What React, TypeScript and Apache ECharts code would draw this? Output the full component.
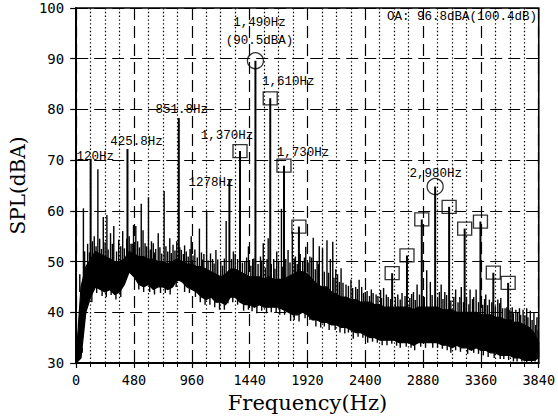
import React, { useEffect, useRef } from "react";
import * as echarts from "echarts";

// ---------------- data ----------------
const X_TICKS = [0, 480, 960, 1440, 1920, 2400, 2880, 3360, 3840];
const Y_TICKS = [30, 40, 50, 60, 70, 80, 90, 100];

// broadband noise floor: frequency grid and lower / upper edge of the dense band (dBA)
const BAND_FREQ = [
  0, 40, 80, 120, 160, 200, 240, 280, 320, 360, 400, 440, 480, 520, 560, 600, 640, 680, 720, 760,
  800, 840, 880, 920, 960, 1000, 1040, 1080, 1120, 1160, 1200, 1240, 1280, 1320, 1360, 1400, 1440,
  1480, 1520, 1560, 1600, 1640, 1680, 1720, 1760, 1800, 1840, 1880, 1920, 1960, 2000, 2040, 2080,
  2120, 2160, 2200, 2240, 2280, 2320, 2360, 2400, 2440, 2480, 2520, 2560, 2600, 2640, 2680, 2720,
  2760, 2800, 2840, 2880, 2920, 2960, 3000, 3040, 3080, 3120, 3160, 3200, 3240, 3280, 3320, 3360,
  3400, 3440, 3480, 3520, 3560, 3600, 3640, 3680, 3720, 3760, 3800, 3840,
];
const BAND_LOW = [
  30, 31, 40, 43, 45, 44.5, 44, 44.5, 43.5, 44, 45.5, 48, 47, 45.5, 45, 45.5, 44.5, 45, 45, 44.5,
  45, 46.5, 46, 45, 44.5, 44, 43, 42.5, 43, 42, 42, 41.5, 43, 43, 42, 41.5, 41.5,
  41, 41.5, 41, 41, 41, 41, 40.5, 40, 39.5, 39.5, 40, 39.5, 38.5, 38.5, 38, 38,
  37.5, 37.5, 37, 37, 36.5, 36, 36, 35.5, 35, 35, 34.5, 34.5, 34.5, 34.5, 34, 34,
  34, 33.5, 34, 34, 34, 34, 34, 33.5, 33.5, 33, 33.5, 33, 33, 32.5, 33, 32.5,
  32.5, 32, 32, 31.5, 31.5, 31.5, 31, 31, 30.5, 30.5, 30.5, 31,
];
const BAND_HIGH = [
  31, 45, 49, 50.5, 52, 51.5, 51, 50.5, 50, 50, 50.5, 52, 51.5, 51, 51, 50.5, 50.5, 50, 50, 49.5,
  50, 50.5, 50, 49.5, 49.5, 49, 49, 48.5, 48, 47.5, 47, 47.5, 48.5, 48.5, 48, 47.5, 47,
  47, 47, 46.5, 47, 46.5, 46.5, 46.5, 47, 47.5, 48, 48, 47.5, 46.5, 45.5, 45, 45,
  44, 43.5, 43, 43, 42.5, 42.5, 42, 42, 42, 41.5, 41.5, 41, 41, 41, 41, 41,
  41, 40.5, 41, 41, 41, 41, 41, 40.5, 40.5, 40.5, 40, 40, 40, 40, 40, 39.5,
  39.5, 39.5, 39, 39, 38.5, 38.5, 38, 38, 37.5, 37, 36, 34,
];

// tonal peaks [Hz, dBA]
const CIRCLE_PEAKS = [[1488, 89.6], [2980, 64.8]];
const SQUARE_PEAKS = [
  [1360, 71.8], [1611, 82.2], [1725, 68.9], [1849, 56.9], [2623, 47.7], [2746, 51.2],
  [2869, 58.3], [3096, 60.8], [3225, 56.5], [3356, 57.9], [3463, 47.8], [3586, 45.8],
];
const LABELED_PEAKS = [[120, 70.3], [425.8, 72.2], [851.8, 78.3], [1272, 66.2]];
const MINOR_SPIKES = [
  [30, 47.5], [60, 60.5], [150, 55], [180, 68.2], [225, 58.8], [255, 59.2], [285, 55.6], [312, 57],
  [353, 54.3], [386, 56], [455, 53.5], [476, 57.2], [495, 57], [540, 61.4], [555, 56.2], [572, 53.6],
  [600, 62.7], [640, 53.6], [660, 52.5], [681, 55.6], [730, 63.9], [760, 52], [777, 54.6], [804, 53.3],
  [873, 52.3], [914, 52], [955, 55], [1023, 56.5], [1060, 51.5], [1083, 60], [1132, 50.5], [1160, 52.3],
  [1200, 50], [1245, 58], [1320, 51.5], [1400, 50], [1430, 53], [1465, 50.5], [1530, 51], [1553, 53.6],
  [1594, 54.6], [1640, 50.5], [1665, 52], [1704, 60.4], [1759, 52.3], [1794, 55.9], [1820, 51], [1880, 50],
  [1906, 52.9], [1940, 51], [1968, 54.7], [2000, 50], [2018, 53], [2045, 52.6], [2082, 54.2], [2110, 50.5],
  [2130, 53.9], [2170, 47.5], [2199, 48.7], [2240, 45.5], [2281, 46.4], [2320, 45], [2349, 46.4], [2400, 44],
  [2450, 44.5], [2490, 43.5], [2527, 44.4], [2552, 44.8], [2590, 43], [2670, 43.5], [2705, 43.8], [2800, 44],
  [2830, 45.5], [2910, 48.3], [2940, 46], [3030, 45.5], [3060, 44], [3150, 44.5], [3197, 45], [3270, 44.5],
  [3300, 43], [3320, 44.5], [3400, 43.5], [3430, 42.5], [3500, 42.5], [3525, 42.8], [3560, 40.8], [3600, 40.5],
  [3620, 41], [3650, 40.5], [3680, 40.8], [3710, 40.5], [3740, 40.8], [3770, 40.3], [3800, 40], [3825, 39],
];
// small ragged excursions just above the band [Hz, dBA]
const FINE_SPIKES = [
  [70, 52], [95, 53.5], [110, 51.8], [135, 54], [165, 53], [195, 54.5], [210, 52.5], [240, 53.8],
  [265, 52.4], [300, 53.5], [335, 52], [370, 53], [400, 52.6], [420, 54.5], [440, 55], [465, 53.5],
  [510, 54], [525, 52.8], [585, 53], [615, 52.4], [625, 54], [650, 51.8], [695, 52.8], [710, 51.6],
  [745, 53], [790, 51.7], [820, 52.2], [835, 54], [860, 52.8], [890, 51.5], [900, 53.2], [930, 51],
  [945, 52.5], [970, 51.2], [985, 52.4], [1005, 50.8], [1040, 51.8], [1050, 50.4], [1095, 50.2],
  [1115, 51.6], [1145, 49.6], [1175, 50.4], [1215, 49.2], [1230, 50.6], [1290, 50.5], [1305, 52],
  [1340, 50.5], [1380, 49.8], [1415, 50.8], [1450, 49.2], [1475, 50.6], [1510, 49.5], [1540, 50.2],
  [1570, 48.8], [1585, 50.5], [1620, 49.5], [1650, 48.6], [1680, 50], [1715, 49], [1740, 50.5],
  [1775, 49.8], [1810, 50.6], [1835, 49.5], [1860, 51.5], [1895, 50.8], [1925, 49.8], [1955, 50.8],
  [1985, 48.5], [2010, 49.5], [2060, 48], [2095, 47.8], [2140, 46.8], [2155, 48.5], [2185, 46],
  [2215, 45.8], [2260, 45.2], [2295, 44.8], [2335, 44.6], [2370, 45], [2385, 43.8], [2415, 44.2],
  [2435, 43.2], [2465, 43.8], [2505, 43.2], [2535, 42.8], [2575, 43.5], [2610, 42.6], [2650, 43],
  [2690, 42.5], [2730, 43.2], [2770, 42.8], [2785, 43.6], [2815, 42.4], [2850, 43.5], [2890, 43],
  [2955, 43.4], [3000, 42.8], [3015, 44], [3045, 42.6], [3075, 43.4], [3110, 42.3], [3135, 43],
  [3170, 42], [3185, 43], [3215, 42], [3240, 43], [3260, 41.6], [3290, 42.6], [3340, 42], [3375, 41.5],
  [3390, 42.6], [3415, 41.4], [3450, 42], [3480, 41.2], [3515, 41.8], [3540, 40.8], [3575, 41],
  [3610, 40.2], [3630, 39.8], [3665, 40], [3690, 39.5], [3725, 39.4], [3750, 39], [3785, 38.5],
  [3815, 37.5], [3835, 36.5],
];
// downward excursions below the band [Hz, dBA]
const DIPS = [
  [50, 33], [100, 41], [130, 42], [170, 43.8], [215, 43.2], [250, 43], [290, 43.4], [330, 42.5],
  [370, 43], [420, 46.5], [520, 44.5], [560, 44], [610, 44], [650, 43.5], [700, 43.8], [740, 43.8],
  [780, 43.5], [830, 45], [900, 44], [940, 43.8], [990, 43], [1030, 42], [1070, 41.5], [1110, 41.5],
  [1150, 41], [1190, 40.5], [1230, 40.5], [1260, 41.8], [1300, 42], [1340, 41.5], [1390, 40.3],
  [1430, 40.5], [1460, 40.2], [1500, 39.8], [1540, 40.3], [1580, 39.8], [1620, 40], [1660, 40],
  [1690, 39.5], [1730, 39.5], [1780, 38.3], [1810, 38.5], [1850, 38.2], [1900, 38.8], [1940, 38.5],
  [1990, 37.2], [2030, 37], [2060, 37.2], [2100, 36.5], [2150, 36.5], [2190, 36], [2230, 35.8],
  [2260, 36], [2300, 34.8], [2340, 35.2], [2380, 35], [2420, 34], [2460, 34.2], [2500, 34],
  [2540, 33.5], [2580, 33.5], [2620, 33.8], [2660, 33.4], [2690, 33], [2740, 33.2], [2780, 33],
  [2810, 32.5], [2860, 33.2], [2900, 33], [2960, 33], [3000, 33], [3040, 32.8], [3080, 32.5],
  [3110, 32], [3150, 32.5], [3190, 32.2], [3250, 31.8], [3300, 32], [3340, 31.8], [3380, 31.5],
  [3420, 31.2], [3470, 31], [3520, 30.8], [3550, 30.8], [3590, 30.6], [3630, 30.3], [3660, 30.3],
  [3700, 30.3], [3740, 30.2], [3780, 30], [3810, 30.3],
];

// annotation texts and the peak each one belongs to
const LABEL_TEXTS = [
  "120Hz", "425.8Hz", "851.8Hz", "1278Hz", "1,370Hz", "1,490Hz\n(90.5dBA)", "1,610Hz", "1,730Hz", "2,980Hz",
];
const LABEL_PEAKS = [
  [120, 70.3], [425.8, 72.2], [851.8, 78.3], [1272, 66.2], [1360, 71.8], [1488, 89.6], [1611, 82.2],
  [1725, 68.9], [2980, 64.8],
];
const OA_TEXT = "OA: 96.8dBA(100.4dB)";
const X_NAME = "Frequency(Hz)";
const Y_NAME = "SPL(dBA)";

// ---------------- styles ----------------
const LABEL_OFFSETS = [
  [4.5, -2], [9, -7], [3, -8], [-18.5, 3.3], [-13, -15], [4, -29], [18, -16], [19, -13], [0.5, -13],
];
const MONO = '"Liberation Mono", "DejaVu Sans Mono", monospace';
const TICK_FONT = '"DejaVu Sans Mono", "Liberation Mono", monospace';
const SERIF = '"DejaVu Serif", "Liberation Serif", serif';

function nearestIndex(f: number): number {
  let best = 0;
  for (let i = 1; i < BAND_FREQ.length; i++) {
    if (Math.abs(BAND_FREQ[i] - f) < Math.abs(BAND_FREQ[best] - f)) best = i;
  }
  return best;
}

function spikeItems(list: number[][]) {
  return list.map(([f, top]) => [f, top, BAND_HIGH[nearestIndex(f)] - 1]);
}

export default function App() {
  const ref = useRef<HTMLDivElement>(null);

  useEffect(() => {
    if (!ref.current) return;
    const chart = echarts.init(ref.current, null, { renderer: "svg" });

    const bandData = BAND_FREQ.map((f, i) => [f, BAND_LOW[i], BAND_HIGH[i]]);
    const majorSpikes = spikeItems([...LABELED_PEAKS, ...SQUARE_PEAKS, ...CIRCLE_PEAKS]);
    const minorSpikes = spikeItems([...MINOR_SPIKES, ...FINE_SPIKES]);
    const dipData = DIPS.map(([f, bottom]) => [f, bottom, BAND_LOW[nearestIndex(f)] + 1]);

    const lineRender = (width: number) => (params: any, api: any) => {
      const p1 = api.coord([api.value(0), api.value(1)]);
      const p2 = api.coord([api.value(0), api.value(2)]);
      return {
        type: "line",
        shape: { x1: p1[0], y1: p1[1], x2: p2[0], y2: p2[1] },
        style: { stroke: "#000", lineWidth: width },
        silent: true,
      };
    };

    const gridLine = { color: "#000", width: 1.2, type: [12, 6] };

    const option: any = {
      animation: false,
      backgroundColor: "#fff",
      grid: {
        left: 72,
        right: 18,
        top: 8,
        bottom: 57,
        show: true,
        borderColor: "#000",
        borderWidth: 1.6,
        backgroundColor: "transparent",
      },
      xAxis: {
        type: "value",
        min: X_TICKS[0],
        max: X_TICKS[X_TICKS.length - 1],
        interval: X_TICKS[1] - X_TICKS[0],
        axisLine: { show: true, lineStyle: { color: "#000", width: 2 } },
        axisTick: { show: true, length: 5, lineStyle: { color: "#000", width: 1.2 } },
        minorTick: { show: true, splitNumber: 4, length: 4, lineStyle: { color: "#000", width: 1 } },
        splitLine: { show: true, lineStyle: gridLine },
        minorSplitLine: { show: true, lineStyle: { color: "#000", width: 1.2, type: [1.4, 2.4] } },
        axisLabel: {
          color: "#000",
          fontFamily: TICK_FONT,
          fontSize: 13.5,
          margin: 10,
          formatter: (v: number) => String(v),
        },
        name: X_NAME,
        nameLocation: "middle",
        nameGap: 29,
        nameTextStyle: { fontFamily: SERIF, fontSize: 21, color: "#000" },
      },
      yAxis: {
        type: "value",
        min: Y_TICKS[0],
        max: Y_TICKS[Y_TICKS.length - 1],
        interval: Y_TICKS[1] - Y_TICKS[0],
        axisLine: { show: true, lineStyle: { color: "#000", width: 2 } },
        axisTick: { show: true, length: 6, lineStyle: { color: "#000", width: 1.2 } },
        splitLine: { show: true, lineStyle: gridLine },
        axisLabel: {
          color: "#000",
          fontFamily: TICK_FONT,
          fontSize: 14,
          margin: 12,
          formatter: (v: number) => String(v),
        },
        name: Y_NAME,
        nameLocation: "middle",
        nameGap: 46,
        nameRotate: 90,
        nameTextStyle: { fontFamily: SERIF, fontSize: 20, color: "#000" },
      },
      series: [
        {
          type: "custom",
          name: "band",
          data: bandData,
          silent: true,
          z: 2,
          renderItem: (params: any, api: any) => {
            if (params.dataIndex !== 0) return null;
            const pts: number[][] = [];
            for (let i = 0; i < bandData.length; i++) pts.push(api.coord([bandData[i][0], bandData[i][2]]));
            for (let i = bandData.length - 1; i >= 0; i--) pts.push(api.coord([bandData[i][0], bandData[i][1]]));
            return {
              type: "polygon",
              shape: { points: pts },
              style: { fill: "#000", stroke: "#000", lineWidth: 1.2 },
              silent: true,
            };
          },
        },
        { type: "custom", name: "minor", data: minorSpikes, z: 3, renderItem: lineRender(1.4) },
        { type: "custom", name: "dips", data: dipData, z: 3, renderItem: lineRender(1.4) },
        { type: "custom", name: "major", data: majorSpikes, z: 4, renderItem: lineRender(2) },
        {
          type: "scatter",
          name: "squares",
          data: SQUARE_PEAKS,
          symbol: "rect",
          symbolSize: [14, 13],
          z: 5,
          silent: true,
          itemStyle: { color: "rgba(255,255,255,0)", borderColor: "#000", borderWidth: 1.3 },
        },
        {
          type: "scatter",
          name: "circles",
          data: CIRCLE_PEAKS,
          symbol: "circle",
          symbolSize: 16,
          z: 5,
          silent: true,
          itemStyle: { color: "rgba(255,255,255,0)", borderColor: "#000", borderWidth: 1.3 },
        },
        {
          type: "custom",
          name: "labels",
          data: LABEL_PEAKS.map((p, i) => [p[0], p[1], i]),
          z: 6,
          silent: true,
          renderItem: (params: any, api: any) => {
            const i = api.value(2);
            const p = api.coord([api.value(0), api.value(1)]);
            const off = LABEL_OFFSETS[i];
            return {
              type: "text",
              x: p[0] + off[0],
              y: p[1] + off[1],
              style: {
                text: LABEL_TEXTS[i],
                fill: "#000",
                font: `12.5px ${MONO}`,
                align: "center",
                verticalAlign: "middle",
                lineHeight: 18,
              },
              silent: true,
            };
          },
        },
      ],
      graphic: [
        {
          type: "text",
          right: 21,
          top: 10,
          z: 10,
          style: { text: OA_TEXT, fill: "#000", font: `12.5px ${MONO}` },
        },
      ],
    };

    chart.setOption(option);
    return () => chart.dispose();
  }, []);

  return (
    <div
      ref={ref}
      style={{ position: "fixed", left: 0, top: 0, width: 558, height: 420, background: "#fff" }}
    />
  );
}
